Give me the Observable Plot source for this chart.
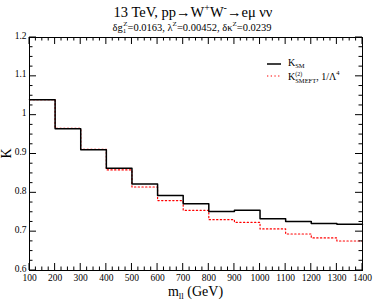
<!DOCTYPE html>
<html><head><meta charset="utf-8">
<script src="https://cdn.jsdelivr.net/npm/d3@7"></script>
<script src="https://cdn.jsdelivr.net/npm/@observablehq/plot@0.6"></script>
<style>body{margin:0;background:#fff}svg,svg text{font-family:"Liberation Serif","DejaVu Serif",serif}</style>
</head><body><div id="chart"></div>
<script>
const binEdges = [100,200,300,400,500,600,700,800,900,1000,1100,1200,1300,1400];
const kSM    = [1.040,0.965,0.911,0.863,0.823,0.793,0.772,0.752,0.755,0.733,0.726,0.721,0.719];
const kSMEFT = [1.040,0.966,0.912,0.859,0.815,0.780,0.755,0.731,0.724,0.707,0.694,0.684,0.676];
const xTicks = [100,200,300,400,500,600,700,800,900,1000,1100,1200,1300,1400];
const yTicks = [0.6,0.7,0.8,0.9,1.0,1.1,1.2];
const yTickLabels = ["0.6","0.7","0.8","0.9","1","1.1","1.2"];

const steps = (vals) => binEdges.map((e,i)=>({x:e, y: vals[Math.min(i, vals.length-1)]}));
const sm = steps(kSM), smeft = steps(kSMEFT);
const xMinor = d3.range(100,1401,25), yMinor = d3.range(0.6,1.2001,0.025);
const serif = '"Liberation Serif", serif';

const plot = Plot.plot({
  width: 374, height: 302,
  marginLeft: 29, marginRight: 12, marginTop: 37, marginBottom: 32,
  style: {fontFamily: serif, fontSize: "9.5px", background: "white"},
  x: {domain: [100,1400]},
  y: {domain: [0.6,1.2]},
  marks: [
    Plot.line(smeft, {x:"x", y:"y", curve:"step-after", stroke:"#ff0000", strokeWidth:1.2, strokeDasharray:"1.3,2.4"}),
    Plot.line(sm, {x:"x", y:"y", curve:"step-after", stroke:"black", strokeWidth:1.5}),
    Plot.frame({stroke:"black", strokeWidth:1}),
    Plot.axisX({anchor:"bottom", ticks:xTicks, tickSize:0, tickPadding:4, label:null, fontSize:9.5, fontFamily:serif, tickFormat:d3.format("d"), fill:"black"}),
    Plot.axisY({anchor:"left", ticks:yTicks, tickSize:0, tickPadding:3, label:null, fontSize:9.5, fontFamily:serif, fill:"black", dy:-2,
      tickFormat:(d)=>yTickLabels[yTicks.findIndex(t=>Math.abs(t-d)<1e-9)]})
  ]
});
document.getElementById("chart").appendChild(plot);

// inward ticks on all four sides, placed through the plot's scales
const svg = d3.select(plot);
const sx = plot.scale("x"), sy = plot.scale("y");
const X = v => sx.apply(v), Y = v => sy.apply(v);
const x0 = X(100), x1 = X(1400), y0 = Y(0.6), y1 = Y(1.2);
const tg = svg.append("g").attr("stroke","black").attr("stroke-width",1);
function tick(v, len, axis){
  if (axis==="x"){
    tg.append("line").attr("x1",X(v)).attr("x2",X(v)).attr("y1",y0).attr("y2",y0-len);
    tg.append("line").attr("x1",X(v)).attr("x2",X(v)).attr("y1",y1).attr("y2",y1+len);
  } else {
    tg.append("line").attr("y1",Y(v)).attr("y2",Y(v)).attr("x1",x0).attr("x2",x0+len);
    tg.append("line").attr("y1",Y(v)).attr("y2",Y(v)).attr("x1",x1).attr("x2",x1-len);
  }
}
xMinor.forEach(v=>tick(v, (v%100===0)?7:3.5, "x"));
yMinor.forEach((v,i)=>tick(v, (i%4===0)?7:3.5, "y"));

// titles and labels
const T = svg.append("g").attr("fill","black").attr("font-family",serif);
const t1 = T.append("text").attr("x",193).attr("y",17).attr("text-anchor","middle").attr("font-size",14.5);
t1.append("tspan").text("13 TeV, pp→W");
t1.append("tspan").attr("font-size",10).attr("dy",-6).text("+");
t1.append("tspan").attr("dy",6).text("W");
t1.append("tspan").attr("font-size",10).attr("dy",-6).text("-");
t1.append("tspan").attr("dy",6).text("→eμ νν");

const t2 = T.append("text").attr("x",192).attr("y",31).attr("text-anchor","middle").attr("font-size",10.5);
t2.append("tspan").text("δg");
t2.append("tspan").attr("font-size",7).attr("dy",2).text("1");
t2.append("tspan").attr("font-size",7).attr("dy",-7).attr("dx",-3).text("Z");
t2.append("tspan").attr("dy",5).text("=0.0163, λ");
t2.append("tspan").attr("font-size",7).attr("dy",-5).text("Z");
t2.append("tspan").attr("dy",5).text("=0.00452, δκ");
t2.append("tspan").attr("font-size",7).attr("dy",-5).text("Z");
t2.append("tspan").attr("dy",5).text("=0.0239");

const xl = T.append("text").attr("x",(x0+x1)/2).attr("y",296).attr("text-anchor","middle").attr("font-size",14);
xl.append("tspan").text("m");
xl.append("tspan").attr("font-size",9).attr("dy",3).text("ll");
xl.append("tspan").attr("dy",-3).text(" (GeV)");

T.append("text").attr("transform",`translate(11,${(y0+y1)/2}) rotate(-90)`).attr("text-anchor","middle").attr("font-size",14).text("K");

// legend
const L = svg.append("g").attr("font-family",serif).attr("text-anchor","start").attr("fill","black");
L.append("line").attr("x1",267).attr("x2",281).attr("y1",64).attr("y2",64).attr("stroke","black").attr("stroke-width",1.5);
L.append("line").attr("x1",267).attr("x2",281).attr("y1",76).attr("y2",76).attr("stroke","#ff0000").attr("stroke-width",1.2).attr("stroke-dasharray","1.3,2.4");
const l1 = L.append("text").attr("x",288).attr("y",66).attr("font-size",10);
l1.append("tspan").text("K");
l1.append("tspan").attr("font-size",6.5).attr("dy",2).text("SM");
const l2 = L.append("text").attr("x",288).attr("y",80).attr("font-size",10);
l2.append("tspan").text("K");
l2.append("tspan").attr("font-size",6).attr("dy",-4).text("(2)");
l2.append("tspan").attr("font-size",6.5).attr("dy",7).attr("dx",-7).text("SMEFT");
l2.append("tspan").attr("dy",-3).text(", 1/Λ");
l2.append("tspan").attr("font-size",6.5).attr("dy",-5).text("4");
</script></body></html>
